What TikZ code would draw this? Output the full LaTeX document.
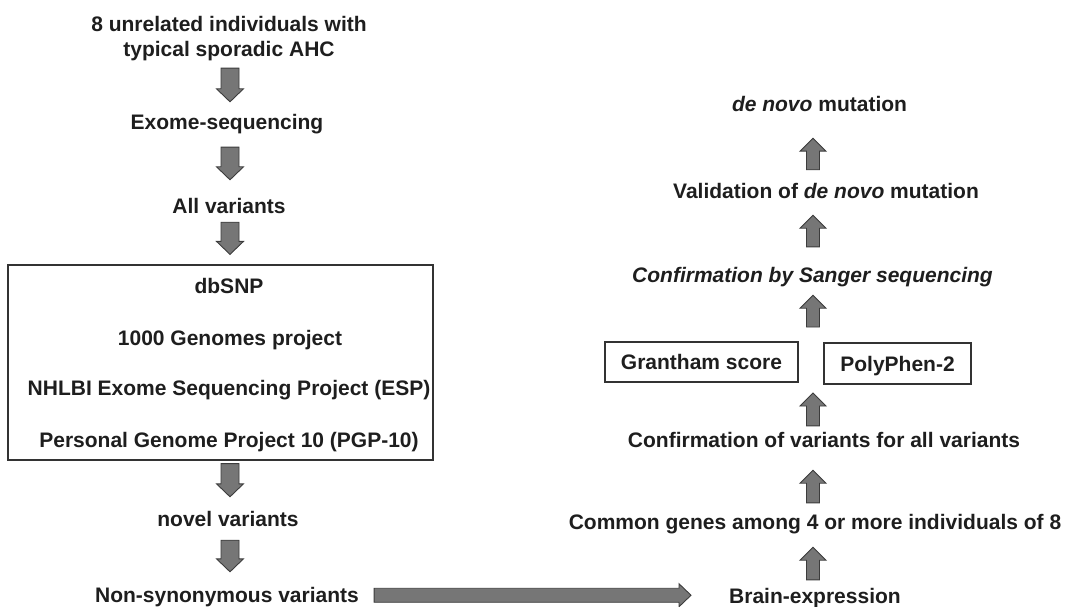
\documentclass[tikz,border=0pt]{standalone}
\usepackage{fontspec}
\setmainfont{Liberation Sans}
\usetikzlibrary{calc}
\definecolor{txtcol}{HTML}{1E1E1E}
\definecolor{arrfill}{HTML}{767676}
\definecolor{arrline}{HTML}{3C3C3C}
\definecolor{boxline}{HTML}{333333}
\tikzset{
  lab/.style={font=\fontsize{21}{25}\selectfont\bfseries, text=txtcol, inner sep=0pt,
    text height=15pt, text depth=4.5pt, anchor=base},
  blockarrow/.style={draw=arrline, fill=arrfill, line width=0.9pt, line join=miter},
  filterbox/.style={draw=boxline, line width=1.2pt, inner sep=0pt},
  scorebox/.style={draw=boxline, line width=1.2pt, inner sep=0pt,
    font=\fontsize{21}{25}\selectfont\bfseries, text=txtcol, text height=15pt, text depth=0pt}
}
% block arrow from #1 to #2: half shaft width #3, half head width #4, head length #5
\newcommand\blockarr[5]{%
  \path[blockarrow] let \p1=(#1), \p2=(#2),
      \n1={atan2(\y2-\y1,\x2-\x1)}, \n2={veclen(\x2-\x1,\y2-\y1)} in
    [shift={(\p1)}, rotate=\n1]
    (0,-#3) -- ({\n2-#5},-#3) -- ({\n2-#5},-#4) -- (\n2,0) -- ({\n2-#5},#4)
    -- ({\n2-#5},#3) -- (0,#3) -- cycle;}
\begin{document}
\begin{tikzpicture}[x=1pt, y=-1pt]
\useasboundingbox (0,0) rectangle (1069,607);
% left column
\node[lab] (t1) at (229,32) {8 unrelated individuals with};
\node[lab] (t2) at (229,57) {typical sporadic AHC};
\node[lab] (exome) at (227,130) {Exome-sequencing};
\node[lab] (allvar) at (229,213) {All variants};
\node[filterbox, minimum width=425pt, minimum height=195pt] (filter) at (220.5,362.5) {};
\node[lab] (dbsnp) at (229,293) {dbSNP};
\node[lab] (kg) at (230,345) {1000 Genomes project};
\node[lab] (esp) at (229,395) {NHLBI Exome Sequencing Project (ESP)};
\node[lab] (pgp) at (229,447) {Personal Genome Project 10 (PGP-10)};
\node[lab] (novel) at (228,526) {novel variants};
\node[lab] (nonsyn) at (227,602) {Non-synonymous variants};
% right column
\node[lab] (brain) at (815,603) {Brain-expression};
\node[lab] (common) at (815,529) {Common genes among 4 or more individuals of 8};
\node[lab] (confvar) at (824,447) {Confirmation of variants for all variants};
\node[scorebox, minimum width=193pt, minimum height=40pt] (gran) at (701.5,362) {Grantham score};
\node[scorebox, minimum width=147pt, minimum height=41pt] (poly) at (897.5,363.5) {PolyPhen-2};
\coordinate (gapbot) at (813,382);
\coordinate (gaptop) at (813,342);
\node[lab] (sanger) at (812.5,282) {\itshape Confirmation by Sanger sequencing};
\node[lab] (valid) at (826,199) {Validation of \textit{de novo} mutation};
\node[lab] (denovo) at (819.5,112) {\textit{de novo} mutation};
% left arrows (down)
\blockarr{[shift={(1,6.5)}]t2.south}{[shift={(3,-13)}]exome.north}{9}{13.5}{13}
\blockarr{[shift={(3,12.5)}]exome.south}{[shift={(1,-18)}]allvar.north}{9}{13.5}{13}
\blockarr{[shift={(1,4.5)}]allvar.south}{[shift={(9.5,-10)}]filter.north}{9}{13.5}{13}
\blockarr{[shift={(9.5,3)}]filter.south}{[shift={(2,-14)}]novel.north}{9}{13.5}{13}
\blockarr{[shift={(2,9.5)}]novel.south}{[shift={(3,-15)}]nonsyn.north}{9}{13.5}{13}
% right arrows (up)
\blockarr{[shift={(-2,-8)}]brain.north}{[shift={(-2,13.5)}]common.south}{6.5}{13}{13}
\blockarr{[shift={(-2,-11)}]common.north}{[shift={(-11,18.5)}]confvar.south}{6.5}{13}{13}
\blockarr{[shift={(-11,-6)}]confvar.north}{[shift={(0,11)}]gapbot}{6.5}{13}{13}
\blockarr{[shift={(0,-15)}]gaptop}{[shift={(0.5,8.5)}]sanger.south}{6.5}{13}{13}
\blockarr{[shift={(0.5,-20)}]sanger.north}{[shift={(-13,11.5)}]valid.south}{6.5}{13}{13}
\blockarr{[shift={(-13,-14)}]valid.north}{[shift={(-6.5,21.5)}]denovo.south}{6.5}{13}{13}
% horizontal arrow
\blockarr{[shift={(15,-1.5)}]nonsyn.east}{[shift={(-38,-2.5)}]brain.west}{7}{11.5}{12}
\end{tikzpicture}
\end{document}
